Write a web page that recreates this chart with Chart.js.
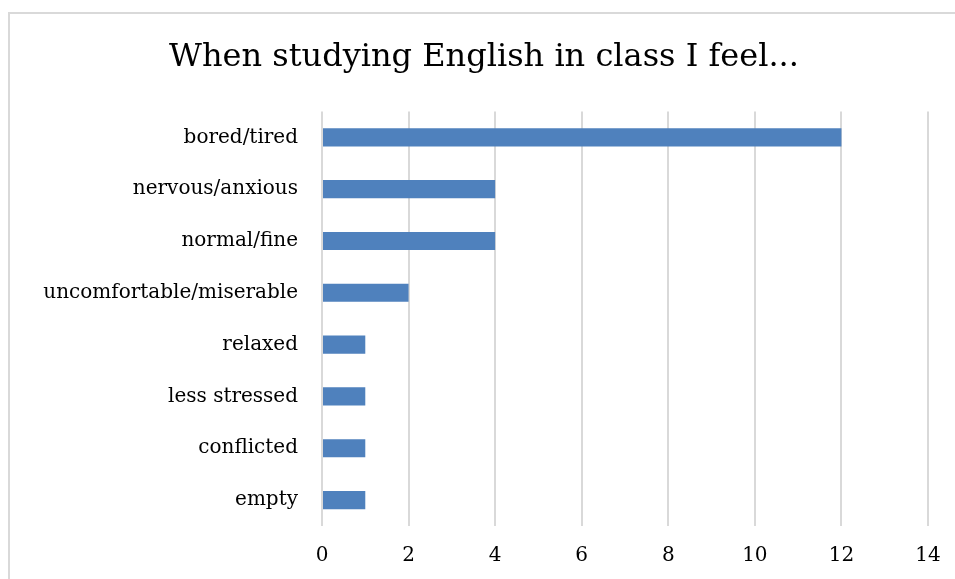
<!DOCTYPE html>
<html>
<head>
<meta charset="utf-8">
<script src="https://cdn.jsdelivr.net/npm/chart.js@4/dist/chart.umd.min.js"></script>
<style>
  html, body { margin: 0; padding: 0; background: #fff; overflow: hidden; }
  #marco { position: absolute; left: 8px; top: 12px; width: 960px; height: 600px; border: 2px solid #d9d9d9; }
  #wrap { position: absolute; left: 0; top: 0; width: 955px; height: 579px; }
</style>
</head>
<body>
<div id="marco"></div>
<div id="wrap"><canvas id="grafico" width="955" height="579"></canvas></div>
<script>
// Datos
const categorias = ["bored/tired", "nervous/anxious", "normal/fine", "uncomfortable/miserable", "relaxed", "less stressed", "conflicted", "empty"];
const valores = [12, 4, 4, 2, 1, 1, 1, 1];
const ticksX = [0, 2, 4, 6, 8, 10, 12, 14];
const titulo = "When studying English in class I feel...";

const FUENTE = "'DejaVu Serif', 'Liberation Serif', serif";

const ctx = document.getElementById("grafico");
new Chart(ctx, {
  type: "bar",
  data: {
    labels: categorias,
    datasets: [{
      data: valores,
      backgroundColor: "#4f81bd",
      borderColor: "#4f81bd",
      borderWidth: 0,
      categoryPercentage: 1,
      barPercentage: 0.35
    }]
  },
  options: {
    indexAxis: "y",
    responsive: false,
    animation: false,
    // padding izquierdo para centrar el título como en el original
    layout: { padding: { left: 40, right: 27, top: 0, bottom: 0 } },
    plugins: {
      legend: { display: false },
      tooltip: { enabled: false },
      title: {
        display: true,
        text: titulo,
        color: "#000",
        font: { family: FUENTE, size: 32, weight: "normal", lineHeight: 1.2 },
        padding: { top: 38, bottom: 35 }
      }
    },
    scales: {
      x: {
        min: ticksX[0],
        max: ticksX[ticksX.length - 1],
        afterBuildTicks: (ax) => { ax.ticks = ticksX.map(v => ({ value: v })); },
        afterFit: (ax) => { ax.height = 53; ax.paddingRight = 0; ax.paddingLeft = 0; },
        grid: { color: "#d9d9d9", lineWidth: 2, drawTicks: false },
        border: { display: false },
        ticks: { color: "#000", padding: 18, font: { family: FUENTE, size: 20 } }
      },
      y: {
        afterFit: (ax) => { ax.width = 282; },
        grid: { display: false, drawTicks: false },
        border: { display: false },
        ticks: { color: "#000", padding: 24, font: { family: FUENTE, size: 20 } }
      }
    }
  }
});
</script>
</body>
</html>
